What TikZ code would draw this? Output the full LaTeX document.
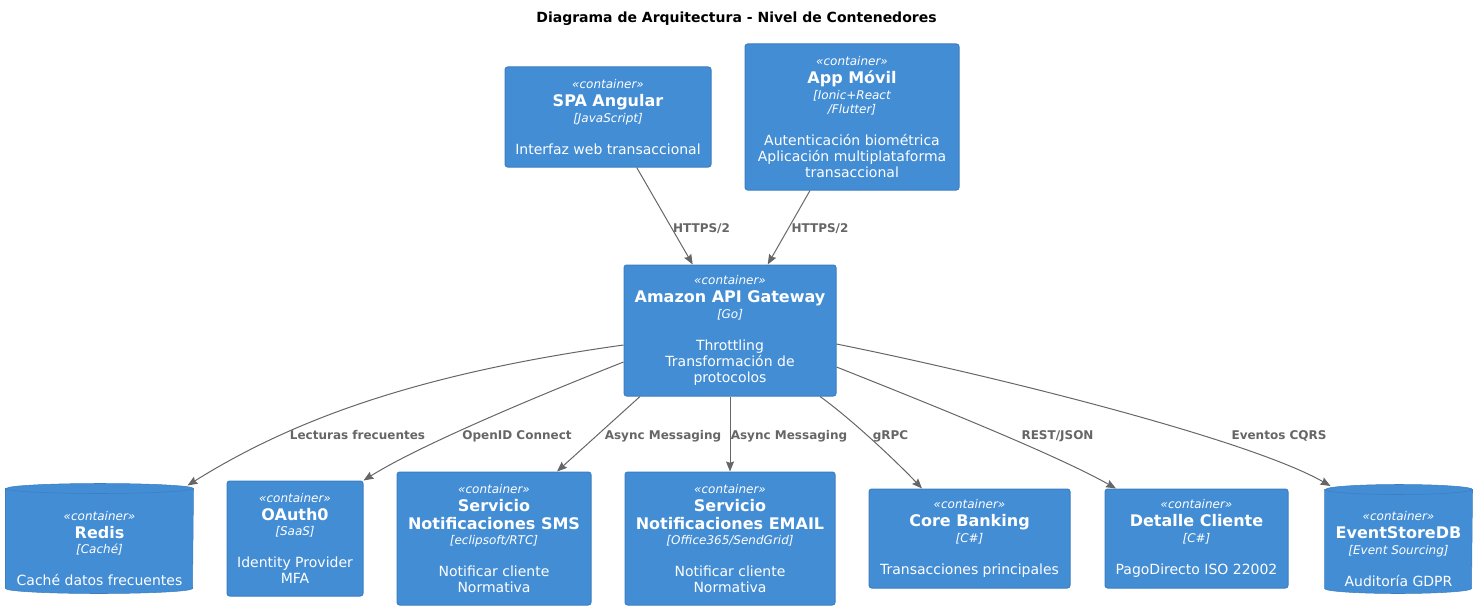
\documentclass[tikz,border=0pt]{standalone}
\usepackage{fontspec}
\setmainfont{DejaVu Sans}
\usetikzlibrary{arrows.meta,calc,backgrounds}
\definecolor{ctnfill}{HTML}{438DD5}
\definecolor{ctnline}{HTML}{3C7FC0}
\definecolor{relgray}{HTML}{666666}
\tikzset{every picture/.style={line width=0.75pt}}
\tikzset{
  ctn/.style={draw=ctnline, fill=ctnfill, rounded corners=2pt, text=white, align=center, inner sep=0pt, font=\fontsize{10.5}{12}\selectfont},
  dbtxt/.style={text=white, align=center, inner sep=0pt, font=\fontsize{10.5}{12}\selectfont},
  rel/.style={draw=relgray, -{Stealth[length=7.5pt,width=6pt,inset=1pt]}},
  rlbl/.style={anchor=base, text=relgray, font=\fontsize{9}{11}\selectfont\bfseries, inner sep=0.75pt},
}
% container text pieces
\newcommand{\stereo}[1][0pt]{\rule{0pt}{#1}{\fontsize{9}{10.5}\selectfont\itshape «container»}}
\newcommand{\cname}[1]{{\fontsize{12}{13.5}\selectfont\bfseries #1}}
\newcommand{\ctech}[1]{{\fontsize{9}{10.5}\selectfont\itshape #1}}
% cylinder body behind a database node: {node}{x radius} (yscale=-1, so +y is down)
\newcommand{\cyl}[2]{%
  \draw[draw=ctnline, fill=ctnfill] ([yshift=3.75pt]#1.north west) -- ([yshift=-3.75pt]#1.south west) arc[start angle=180, end angle=0, x radius=#2, y radius=3.75pt] -- ([yshift=3.75pt]#1.north east) arc[start angle=360, end angle=180, x radius=#2, y radius=3.75pt] -- cycle;
  \draw[draw=ctnline] ([yshift=3.75pt]#1.north west) arc[start angle=180, end angle=0, x radius=#2, y radius=3.75pt];
}

\begin{document}
\begin{tikzpicture}[x=0.75pt,y=0.75pt,yscale=-1,xscale=1]
\path[use as bounding box] (0,0) rectangle (1484,610);

% Title
\draw (736.5,22.5) node (ttl) [anchor=base, inner sep=0pt, font=\fontsize{10.5}{12}\selectfont\bfseries] {Diagrama de Arquitectura - Nivel de Contenedores};

%Shape: Container [SPA]
\draw (608,117) node (spa) [ctn, minimum width=154.5pt, minimum height=75pt] {\stereo\\[1.5pt]\cname{SPA Angular}\\[-0.4pt]\ctech{[JavaScript]}\\[12pt]Interfaz web transaccional};
%Shape: Container [App]
\draw (852,117) node (app) [ctn, minimum width=160.5pt, minimum height=109.5pt] {\stereo\\[1.5pt]\cname{App Móvil}\\[-0.4pt]\ctech{[Ionic+React}\\[-1.5pt]\ctech{/Flutter]}\\[12pt]Autenticación biométrica\\Aplicación multiplataforma\\transaccional};
%Shape: Container [Gateway]
\draw (730,330.5) node (gw) [ctn, minimum width=159pt, minimum height=98.25pt] {\stereo\\[1.5pt]\cname{Amazon API Gateway}\\[-0.4pt]\ctech{[Go]}\\[12pt]Throttling\\Transformación de\\protocolos};

%Shape: Database [Redis]
\draw (99.5,538.5) node (redis) [dbtxt, minimum width=140.25pt, minimum height=81.75pt] {\stereo[22pt]\\[1.5pt]\cname{Redis}\\[-0.4pt]\ctech{[Caché]}\\[12pt]Caché datos frecuentes};
%Shape: Container [OAuth0]
\draw (295,538.5) node (oauth) [ctn, minimum width=102pt, minimum height=86.25pt] {\stereo\\[1.5pt]\cname{OAuth0}\\[-0.4pt]\ctech{[SaaS]}\\[12pt]Identity Provider\\MFA};
%Shape: Container [SMS]
\draw (494,538.5) node (sms) [ctn, minimum width=145.5pt, minimum height=99.75pt] {\stereo\\[1.5pt]\cname{Servicio}\\[1.5pt]\cname{Notificaciones SMS}\\[-0.4pt]\ctech{[eclipsoft/RTC]}\\[12pt]Notificar cliente\\Normativa};
%Shape: Container [EMAIL]
\draw (730,538.5) node (email) [ctn, minimum width=157.5pt, minimum height=99.75pt] {\stereo\\[1.5pt]\cname{Servicio}\\[1.5pt]\cname{Notificaciones EMAIL}\\[-0.4pt]\ctech{[Office365/SendGrid]}\\[12pt]Notificar cliente\\Normativa};
%Shape: Container [Core]
\draw (969.5,538.5) node (core) [ctn, minimum width=150.75pt, minimum height=74.25pt] {\stereo\\[1.5pt]\cname{Core Banking}\\[-0.4pt]\ctech{[C\#]}\\[12pt]Transacciones principales};
%Shape: Container [Detalle]
\draw (1196.5,538.5) node (detalle) [ctn, minimum width=137.25pt, minimum height=74.25pt] {\stereo\\[1.5pt]\cname{Detalle Cliente}\\[-0.4pt]\ctech{[C\#]}\\[12pt]PagoDirecto ISO 22002};
%Shape: Database [EventStore]
\draw (1398.5,539) node (esdb) [dbtxt, minimum width=110.25pt, minimum height=81pt] {\stereo[22pt]\\[1.5pt]\cname{EventStoreDB}\\[-0.4pt]\ctech{[Event Sourcing]}\\[12pt]Auditoría GDPR};

\begin{scope}[on background layer]
\cyl{redis}{70.125pt}
\cyl{esdb}{55.125pt}
\end{scope}

%Straight Lines [front ends]
\draw[rel] ($(spa.south)+(28.7,0)$) -- ($(gw.north)+(-37.3,0)$);
\draw[rel] ($(app.south)+(-42,0)$) -- ($(gw.north)+(37.7,0)$);
%Curve Lines [back ends]
\draw[rel] ($(gw.west)+(0,14.5)$) .. controls (430,372) and (300,415) .. ($(redis.north east)+(-6,2)$);
\draw[rel] ($(gw.west)+(0,31.5)$) .. controls (540,395) and (420,445) .. (oauth.north east);
\draw[rel] ($(gw.south)+(-90,0)$) -- ($(sms.north)+(63,0)$);
\draw[rel] (gw.south) -- (email.north);
\draw[rel] ($(gw.south)+(90,0)$) .. controls (850,418) and (895,460) .. ($(core.north)+(-47.5,0)$);
\draw[rel] ($(gw.east)+(0,36.5)$) .. controls (950,412) and (1060,457) .. ($(detalle.north)+(-80.5,0)$);
\draw[rel] ($(gw.east)+(0,13.5)$) .. controls (1000,377) and (1250,440) .. ($(esdb.north west)+(6,1.5)$);

% Text Node
\draw (701.5,232) node (lspa) [rlbl] {HTTPS/2};
% Text Node
\draw (820,232) node (lapp) [rlbl] {HTTPS/2};
% Text Node
\draw (357.5,439) node (lredis) [rlbl] {Lecturas frecuentes};
% Text Node
\draw (517,439) node (loauth) [rlbl] {OpenID Connect};
% Text Node
\draw (663,439) node (lsms) [rlbl] {Async Messaging};
% Text Node
\draw (789,439) node (lemail) [rlbl] {Async Messaging};
% Text Node
\draw (890.5,439) node (lcore) [rlbl] {gRPC};
% Text Node
\draw (1057.5,439) node (ldet) [rlbl] {REST/JSON};
% Text Node
\draw (1279,439) node (lesdb) [rlbl] {Eventos CQRS};

\end{tikzpicture}
\end{document}
